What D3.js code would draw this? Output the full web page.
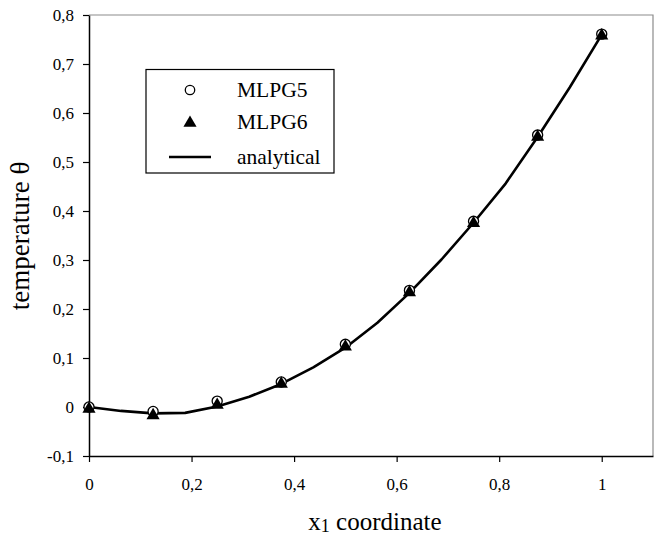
<!DOCTYPE html>
<html>
<head>
<meta charset="utf-8">
<script src="https://cdn.jsdelivr.net/npm/d3@7"></script>
</head>
<body style="margin:0;padding:0;background:#fff">
<svg id="chart" width="657" height="538" style="display:block"></svg>
<script>
// Nodal positions along x1
const nodeX = [0, 0.125, 0.25, 0.375, 0.5, 0.625, 0.75, 0.875, 1];
// Numerical temperature at the nodes
const mlpg5 = [0.000, -0.009, 0.012, 0.051, 0.128, 0.238, 0.379, 0.555, 0.761];
const mlpg6 = [-0.004, -0.017, 0.004, 0.047, 0.123, 0.234, 0.375, 0.551, 0.758];
// Analytical curve sampled on a finer grid
const exactX = [0, 0.0625, 0.125, 0.1875, 0.25, 0.3125, 0.375, 0.4375, 0.5, 0.5625, 0.625, 0.6875, 0.75, 0.8125, 0.875, 0.9375, 1];
const exactT = [0, -0.008, -0.013, -0.012, 0.001, 0.021, 0.047, 0.081, 0.121, 0.172, 0.233, 0.301, 0.376, 0.456, 0.551, 0.652, 0.760];
// Axis ticks
const xTicks = [0, 0.2, 0.4, 0.6, 0.8, 1];
const yTicks = [-0.1, 0, 0.1, 0.2, 0.3, 0.4, 0.5, 0.6, 0.7, 0.8];
const legendItems = ["MLPG5", "MLPG6", "analytical"];

const FONT = "Liberation Serif";
const svg = d3.select("#chart").attr("font-family", FONT);
const L = 89, R = 653, T = 15, B = 456;

const x = d3.scaleLinear().domain([0, 1.1]).range([L, R]);
const y = d3.scaleLinear().domain([-0.1, 0.8]).range([B, T]);
const fmt = d => String(+d.toFixed(1)).replace(".", ",");

// Plot frame: grey top/right edges
svg.append("path")
  .attr("d", `M${L},${T}H${R}V${B}`)
  .attr("fill", "none").attr("stroke", "#8c8c8c").attr("stroke-width", 1.2);

// Axes
const xAxis = svg.append("g").attr("transform", `translate(0,${B})`)
  .call(d3.axisBottom(x).tickValues(xTicks).tickSize(6).tickSizeOuter(0).tickPadding(16).tickFormat(fmt));
const yAxis = svg.append("g").attr("transform", `translate(${L},0)`)
  .call(d3.axisLeft(y).tickValues(yTicks).tickSize(6).tickSizeOuter(0).tickPadding(9).tickFormat(fmt));
[xAxis, yAxis].forEach(a => {
  a.attr("font-family", FONT).attr("font-size", 17);
  a.select(".domain").attr("stroke", "#000").attr("stroke-width", 1.5);
  a.selectAll(".tick line").attr("stroke", "#000").attr("stroke-width", 1.2);
  a.selectAll(".tick text").attr("fill", "#000").attr("font-family", FONT).attr("font-size", 17);
});

// Analytical curve
const line = d3.line().x((d, i) => x(exactX[i])).y(d => y(d));
svg.append("path").datum(exactT).attr("d", line)
  .attr("fill", "none").attr("stroke", "#000").attr("stroke-width", 2.6)
  .attr("stroke-linejoin", "round");

// Markers
const circ = d3.symbol().type(d3.symbolCircle).size(80);
const tri = d3.symbol().type(d3.symbolTriangle).size(75);

svg.append("g").selectAll("path").data(mlpg5).join("path")
  .attr("d", circ)
  .attr("transform", (d, i) => `translate(${x(nodeX[i])},${y(d)})`)
  .attr("fill", "#fff").attr("stroke", "#000").attr("stroke-width", 1.3);

svg.append("g").selectAll("path").data(mlpg6).join("path")
  .attr("d", tri)
  .attr("transform", (d, i) => `translate(${x(nodeX[i])},${y(d)})`)
  .attr("fill", "#000");

// Legend
const lg = svg.append("g").attr("font-family", FONT);
lg.append("rect").attr("x", 146).attr("y", 69.5).attr("width", 188).attr("height", 103.5)
  .attr("fill", "#fff").attr("stroke", "#000").attr("stroke-width", 1.2);
const rowY = [90, 122, 157];
lg.append("path").attr("d", d3.symbol().type(d3.symbolCircle).size(70)())
  .attr("transform", `translate(190,${rowY[0]})`)
  .attr("fill", "#fff").attr("stroke", "#000").attr("stroke-width", 1.3);
lg.append("path").attr("d", d3.symbol().type(d3.symbolTriangle).size(75)())
  .attr("transform", `translate(190,${rowY[1] + 1})`).attr("fill", "#000");
lg.append("line").attr("x1", 169).attr("x2", 211).attr("y1", rowY[2]).attr("y2", rowY[2])
  .attr("stroke", "#000").attr("stroke-width", 2.6);
lg.selectAll("text").data(legendItems).join("text")
  .attr("x", 237).attr("y", (d, i) => rowY[i] + 7)
  .attr("font-family", FONT).attr("font-size", 21.5).attr("fill", "#000").text(d => d);

// Axis titles
const xt = svg.append("text").attr("x", 375).attr("y", 530).attr("text-anchor", "middle")
  .attr("font-family", FONT).attr("font-size", 25).attr("fill", "#000");
xt.append("tspan").text("x");
xt.append("tspan").attr("font-size", 18).attr("dy", 2).text("1");
xt.append("tspan").attr("dy", -2).text(" coordinate");

svg.append("text").attr("transform", "translate(29,236) rotate(-90)")
  .attr("text-anchor", "middle").attr("font-family", FONT).attr("font-size", 27).attr("fill", "#000")
  .text("temperature θ");
</script>
</body>
</html>
